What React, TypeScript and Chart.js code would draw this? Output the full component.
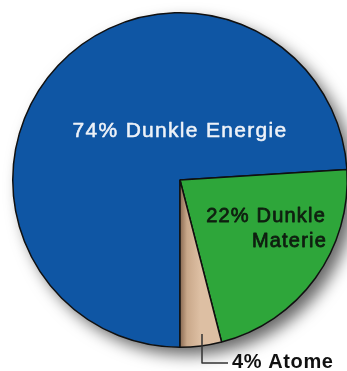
import React, { useEffect, useRef } from "react";
import { Chart, registerables } from "chart.js";

Chart.register(...registerables);

const categories = ["Dunkle Energie", "Dunkle Materie", "Atome"];
const shares = [74, 22, 4];
const sliceColors = ["#0f56a4", "#2ea63a", "#d9b99b"];
const labelLines = [["74% Dunkle Energie"], ["22% Dunkle", "Materie"], ["4% Atome"]];

const labelPlugin = {
  id: "sliceLabels",
  beforeDatasetsDraw(chart: any) {
    const meta = chart.getDatasetMeta(0);
    const arc = meta.data[0];
    if (!arc) return;
    const { x, y, outerRadius } = arc.getProps(["x", "y", "outerRadius"], true);
    const ctx = chart.ctx;
    ctx.save();
    ctx.shadowColor = "rgba(0,0,0,0.6)";
    ctx.shadowBlur = 16;
    ctx.shadowOffsetX = 8;
    ctx.shadowOffsetY = 8;
    ctx.fillStyle = "#ffffff";
    ctx.beginPath();
    ctx.arc(x, y, outerRadius, 0, Math.PI * 2);
    ctx.fill();
    ctx.restore();
  },
  afterDatasetsDraw(chart: any) {
    const meta = chart.getDatasetMeta(0);
    const arc = meta.data[0];
    if (!arc) return;
    const { x, y } = arc.getProps(["x", "y"], true);
    const ctx = chart.ctx;
    ctx.save();
    ctx.textBaseline = "alphabetic";
    ctx.lineJoin = "round";
    // 74%
    ctx.font = "21px 'Liberation Sans', Arial, sans-serif";
    (ctx as any).letterSpacing = "1.3px";
    ctx.fillStyle = "#eef2f8";
    ctx.strokeStyle = "#eef2f8";
    ctx.lineWidth = 0.5;
    ctx.textAlign = "center";
    ctx.fillText(labelLines[0][0], x, y - 43);
    ctx.strokeText(labelLines[0][0], x, y - 43);
    // 22%
    ctx.font = "20px 'Liberation Sans', Arial, sans-serif";
    (ctx as any).letterSpacing = "1.2px";
    ctx.fillStyle = "#0f1f10";
    ctx.strokeStyle = "#0f1f10";
    ctx.lineWidth = 0.8;
    ctx.textAlign = "right";
    ctx.fillText(labelLines[1][0], x + 146, y + 42);
    ctx.strokeText(labelLines[1][0], x + 146, y + 42);
    ctx.fillText(labelLines[1][1], x + 147, y + 67);
    ctx.strokeText(labelLines[1][1], x + 147, y + 67);
    // 4%
    ctx.font = "bold 20px 'Liberation Sans', Arial, sans-serif";
    (ctx as any).letterSpacing = "0.6px";
    ctx.fillStyle = "#111111";
    ctx.textAlign = "left";
    ctx.fillText(labelLines[2][0], x + 52, y + 188);
    // leader
    ctx.strokeStyle = "#333333";
    ctx.lineWidth = 1.5;
    ctx.beginPath();
    ctx.moveTo(x + 22, y + 154);
    ctx.lineTo(x + 22, y + 183);
    ctx.lineTo(x + 48, y + 183);
    ctx.stroke();
    ctx.restore();
  },
};

export default function App() {
  const ref = useRef<HTMLCanvasElement | null>(null);
  useEffect(() => {
    document.body.style.margin = "0";
    if (!ref.current) return;
    const chart = new Chart(ref.current, {
      type: "pie",
      data: {
        labels: categories,
        datasets: [
          {
            data: shares,
            backgroundColor: (c: any) => {
              const i = c.dataIndex;
              const area = c.chart.chartArea;
              if (i === 2 && area) {
                const cx = (area.left + area.right) / 2;
                const g = c.chart.ctx.createLinearGradient(cx, 0, cx + 20, 0);
                g.addColorStop(0, "#8a6a52");
                g.addColorStop(0.35, "#c9a88a");
                g.addColorStop(1, "#ddbfa3");
                return g;
              }
              return sliceColors[i];
            },
            borderColor: "#101010",
            borderWidth: 1.5,
          },
        ],
      },
      options: {
        animation: false,
        responsive: false,
        rotation: 180,
        layout: { padding: { left: 12, right: 12, top: 12, bottom: 23 } },
        plugins: {
          legend: { display: false },
          tooltip: { enabled: false },
        },
      },
      plugins: [labelPlugin],
    });
    return () => chart.destroy();
  }, []);
  return (
    <div
      style={{
        position: "fixed",
        left: 0,
        top: 0,
        width: 347,
        height: 371,
        overflow: "hidden",
        background: "#ffffff",
      }}
    >
      <canvas ref={ref} width={360} height={371} />
    </div>
  );
}
